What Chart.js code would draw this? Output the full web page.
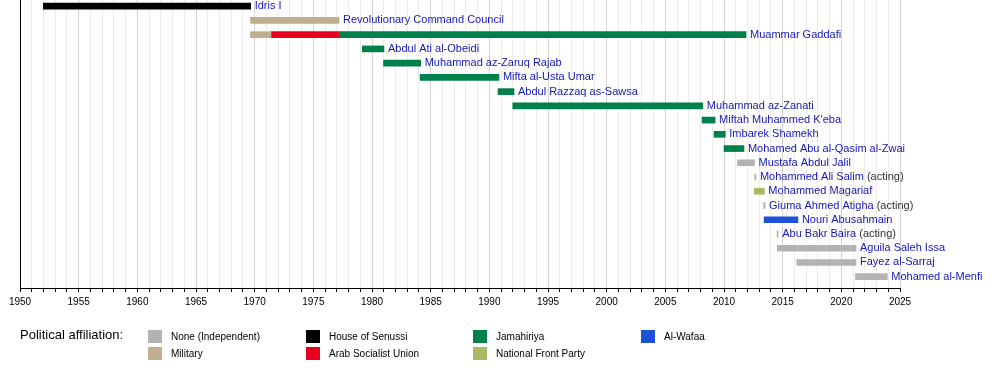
<!DOCTYPE html>
<html>
<head>
<meta charset="utf-8">
<script src="https://cdn.jsdelivr.net/npm/chart.js@4/dist/chart.umd.min.js"></script>
<style>
  html, body { margin: 0; padding: 0; background: #ffffff; }
  #wrap { position: relative; width: 1000px; height: 368px; }
</style>
</head>
<body>
<div id="wrap"><canvas id="c" width="1000" height="368"></canvas></div>
<script>
// ---------- DATA ----------
const rowNames = [
  "Idris I", "Revolutionary Command Council", "Muammar Gaddafi", "Abdul Ati al-Obeidi",
  "Muhammad az-Zaruq Rajab", "Mifta al-Usta Umar", "Abdul Razzaq as-Sawsa", "Muhammad az-Zanati",
  "Miftah Muhammed K'eba", "Imbarek Shamekh", "Mohamed Abu al-Qasim al-Zwai", "Mustafa Abdul Jalil",
  "Mohammed Ali Salim", "Mohammed Magariaf", "Giuma Ahmed Atigha", "Nouri Abusahmain",
  "Abu Bakr Baira", "Aguila Saleh Issa", "Fayez al-Sarraj", "Mohamed al-Menfi"
];
const rowActing = [false,false,false,false,false,false,false,false,false,false,false,false,
  true,false,true,false,true,false,false,false];

// term segments (a row may have several)
const segRow   = [0, 1, 2, 2, 2, 3, 4, 5, 6, 7, 8, 9, 10, 11, 12, 13, 14, 15, 16, 17, 18, 19];
const segStart = [1951.99, 1969.64, 1969.64, 1971.39, 1977.15, 1979.18, 1980.98, 1984.1, 1990.74, 1992.0,
  2008.13, 2009.15, 2010.0, 2011.15, 2012.62, 2012.58, 2013.38, 2013.42, 2014.52, 2014.55, 2016.2, 2021.2];
const segEnd   = [1969.66, 1977.19, 1971.39, 1977.15, 2011.88, 1981.02, 1984.15, 1990.82, 1992.1, 2008.19,
  2009.24, 2010.11, 2011.7, 2012.6, 2012.72, 2013.44, 2013.5, 2016.3, 2014.62, 2021.25, 2021.25, 2023.92];
const segParty = ["Senussi", "Military", "Military", "ASU", "Jamahiriya", "Jamahiriya", "Jamahiriya",
  "Jamahiriya", "Jamahiriya", "Jamahiriya", "Jamahiriya", "Jamahiriya", "Jamahiriya", "None", "None",
  "NFP", "None", "AlWafaa", "None", "None", "None", "None"];

// affiliations (legend order: column by column)
const partyKeys   = ["None", "Military", "Senussi", "ASU", "Jamahiriya", "NFP", "AlWafaa"];
const partyLabels = ["None (Independent)", "Military", "House of Senussi", "Arab Socialist Union",
  "Jamahiriya", "National Front Party", "Al-Wafaa"];
const partyColors = ["#b3b3b3", "#bfae8f", "#000000", "#e8001e", "#00804a", "#a9bb62", "#1f50d8"];

const xMin = 1950, xMax = 2025;
const legendTitle = "Political affiliation:";

// ---------- BUILD ----------
const FONT = "'Liberation Sans', Arial, Helvetica, sans-serif";
const datasets = partyKeys.map((k, pi) => {
  const data = [];
  segParty.forEach((p, i) => { if (p === k) data.push({ y: segRow[i], x: [segStart[i], segEnd[i]] }); });
  return { label: partyLabels[pi], data, backgroundColor: partyColors[pi], borderWidth: 0,
           barThickness: 6, grouped: false };
});

const rowEnd = rowNames.map((_, r) => {
  let m = -Infinity;
  segRow.forEach((sr, i) => { if (sr === r) m = Math.max(m, segEnd[i]); });
  return m;
});

const labelPlugin = {
  id: 'rowLabels',
  afterDatasetsDraw(chart) {
    const ctx = chart.ctx, xs = chart.scales.x, ys = chart.scales.y;
    ctx.save();
    ctx.font = "11px " + FONT;
    ctx.textBaseline = 'middle';
    ctx.textAlign = 'left';
    rowNames.forEach((name, r) => {
      const px = xs.getPixelForValue(rowEnd[r]) + 4;
      const py = ys.getPixelForValue(r);
      ctx.fillStyle = '#1616b6';
      ctx.fillText(name, px, py);
      if (rowActing[r]) {
        const w = ctx.measureText(name + ' ').width;
        ctx.fillStyle = '#333333';
        ctx.fillText('(acting)', px + w, py);
      }
    });
    ctx.restore();
  }
};

const legendPlugin = {
  id: 'affLegend',
  afterDraw(chart) {
    const ctx = chart.ctx;
    ctx.save();
    ctx.textBaseline = 'middle';
    ctx.textAlign = 'left';
    ctx.fillStyle = '#000000';
    ctx.font = "13px " + FONT;
    ctx.fillText(legendTitle, 20, 335);
    const colX = [148, 306, 473, 641];
    const rowY = [330, 347];
    ctx.font = "10px " + FONT;
    partyKeys.forEach((k, i) => {
      const col = Math.floor(i / 2), row = i % 2;
      const x = colX[col], y = rowY[row];
      ctx.fillStyle = partyColors[i];
      ctx.fillRect(x, y, 14, 13);
      ctx.fillStyle = '#000000';
      ctx.fillText(partyLabels[i], x + 23, y + 7);
    });
    ctx.restore();
  }
};

new Chart(document.getElementById('c'), {
  type: 'bar',
  data: { datasets },
  options: {
    indexAxis: 'y',
    responsive: false,
    animation: false,
    devicePixelRatio: 1,
    layout: { padding: { left: 20, right: 100, top: 0, bottom: 0 } },
    plugins: { legend: { display: false }, tooltip: { enabled: false } },
    scales: {
      x: {
        type: 'linear', min: xMin, max: xMax, offset: false,
        afterFit(s) { s.height = 80; },
        afterBuildTicks(s) {
          const t = [];
          for (let v = xMin; v <= xMax; v++) t.push({ value: v });
          s.ticks = t;
        },
        ticks: {
          autoSkip: false, maxRotation: 0, padding: 4, color: '#000000',
          font: { family: FONT, size: 10 },
          callback: v => (v % 5 === 0 ? String(v) : '')
        },
        grid: {
          offset: false,
          color: c => (c.tick && c.tick.value % 5 === 0 ? '#d4d4d4' : '#ebebeb'),
          lineWidth: 1,
          tickLength: 4,
          tickColor: '#000000',
          drawOnChartArea: true
        },
        border: { display: true, color: '#000000', width: 1 }
      },
      y: {
        type: 'linear', reverse: true, min: -0.435, max: 19.794, offset: false,
        afterFit(s) { s.width = 0; },
        ticks: { display: false },
        grid: { display: false, drawTicks: false, offset: false },
        border: { display: true, color: '#000000', width: 1 }
      }
    }
  },
  plugins: [labelPlugin, legendPlugin]
});
</script>
</body>
</html>
